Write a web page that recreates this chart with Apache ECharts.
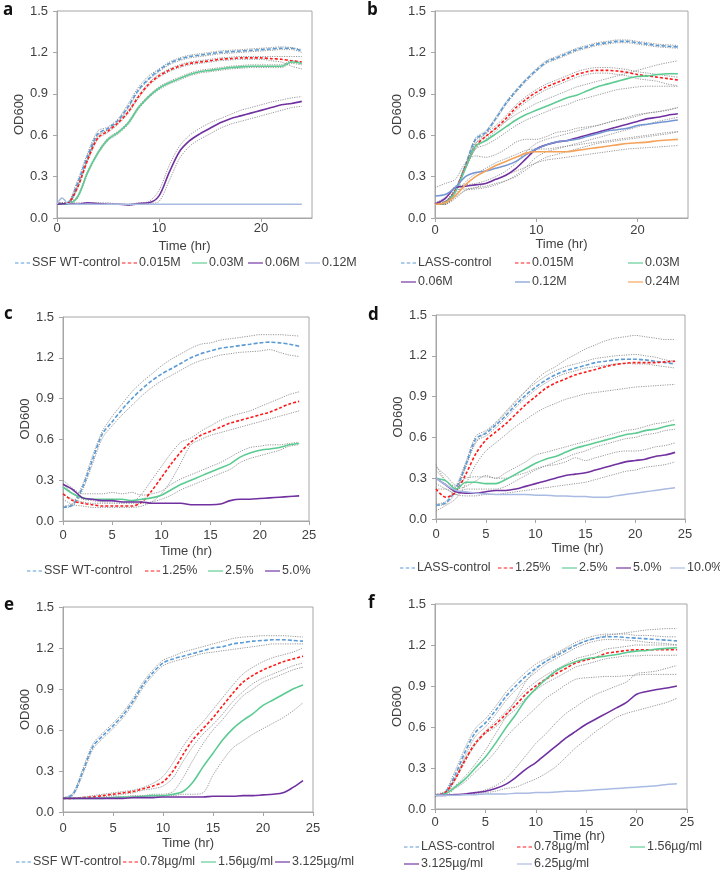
<!DOCTYPE html>
<html><head><meta charset="utf-8">
<script src="https://cdn.jsdelivr.net/npm/echarts@6/dist/echarts.min.js"></script>
<style>html,body{margin:0;padding:0;background:#fff}#c{width:720px;height:877px}</style>
</head><body><div id="c"></div><script>
// ---------- DATA ----------
const hours = [0,1,2,3,4,5,6,7,8,9,10,11,12,13,14,15,16,17,18,19,20,21,22,23,24];
const yTicks = [0.0,0.3,0.6,0.9,1.2,1.5];
const xTicksAB = [0,10,20];
const xTicksCF = [0,5,10,15,20,25];

// panel a
const a_names = ['SSF WT-control','0.015M','0.03M','0.06M','0.12M'];
const a_ctrl    = [0.10,0.105,0.25,0.45,0.61,0.65,0.71,0.81,0.93,1.01,1.07,1.12,1.15,1.17,1.18,1.19,1.20,1.205,1.21,1.215,1.22,1.225,1.23,1.23,1.21];
const a_ctrl_hi = [0.11,0.115,0.27,0.47,0.63,0.66,0.72,0.83,0.95,1.03,1.08,1.13,1.16,1.18,1.19,1.20,1.21,1.215,1.22,1.225,1.23,1.235,1.24,1.235,1.22];
const a_ctrl_lo = [0.10,0.10,0.23,0.43,0.60,0.64,0.70,0.80,0.92,1.00,1.06,1.11,1.14,1.16,1.17,1.18,1.19,1.195,1.20,1.205,1.21,1.215,1.22,1.22,1.20];
const a_015     = [0.10,0.105,0.22,0.42,0.58,0.63,0.69,0.77,0.88,0.97,1.03,1.07,1.10,1.12,1.13,1.14,1.15,1.155,1.16,1.16,1.16,1.155,1.15,1.14,1.13];
const a_015_hi  = [0.11,0.11,0.23,0.43,0.59,0.64,0.70,0.78,0.89,0.98,1.04,1.08,1.11,1.13,1.14,1.15,1.16,1.165,1.17,1.17,1.17,1.17,1.17,1.17,1.17];
const a_015_lo  = [0.10,0.10,0.21,0.41,0.57,0.62,0.68,0.76,0.87,0.96,1.02,1.06,1.09,1.11,1.12,1.13,1.14,1.145,1.15,1.15,1.15,1.14,1.13,1.10,1.08];
const a_03      = [0.10,0.10,0.15,0.33,0.47,0.57,0.62,0.69,0.80,0.88,0.94,0.98,1.01,1.04,1.06,1.07,1.08,1.09,1.095,1.10,1.10,1.10,1.10,1.13,1.12];
const a_03_hi   = [0.10,0.105,0.16,0.34,0.48,0.58,0.63,0.70,0.81,0.89,0.95,0.99,1.02,1.05,1.07,1.08,1.09,1.10,1.105,1.11,1.11,1.11,1.11,1.14,1.13];
const a_03_lo   = [0.10,0.10,0.14,0.32,0.46,0.56,0.61,0.68,0.79,0.87,0.93,0.97,1.00,1.03,1.05,1.06,1.07,1.08,1.085,1.09,1.09,1.09,1.09,1.12,1.11];
const a_06      = [0.10,0.105,0.10,0.11,0.105,0.10,0.10,0.095,0.105,0.11,0.16,0.33,0.48,0.56,0.61,0.65,0.69,0.72,0.74,0.76,0.78,0.80,0.82,0.83,0.845];
const a_06_hi   = [0.11,0.11,0.11,0.11,0.11,0.11,0.10,0.10,0.11,0.12,0.20,0.38,0.52,0.60,0.65,0.69,0.72,0.75,0.78,0.80,0.82,0.84,0.855,0.87,0.88];
const a_06_lo   = [0.10,0.10,0.10,0.10,0.10,0.10,0.10,0.09,0.10,0.105,0.12,0.27,0.43,0.52,0.57,0.61,0.65,0.68,0.70,0.72,0.74,0.76,0.78,0.80,0.81];
const a_12_hours = [0,0.25,0.5,0.75,1,1.5,24];
const a_12       = [0.10,0.13,0.145,0.13,0.105,0.10,0.10];

// panel b
const b_names = ['LASS-control','0.015M','0.03M','0.06M','0.12M','0.24M'];
const b_ctrl    = [0.10,0.11,0.20,0.38,0.57,0.62,0.72,0.83,0.92,1.00,1.07,1.13,1.16,1.19,1.22,1.24,1.26,1.27,1.28,1.28,1.27,1.26,1.25,1.245,1.24];
const b_ctrl_hi = [0.11,0.12,0.21,0.39,0.58,0.63,0.73,0.84,0.93,1.01,1.08,1.14,1.17,1.20,1.23,1.25,1.27,1.28,1.29,1.29,1.28,1.27,1.26,1.255,1.25];
const b_ctrl_lo = [0.10,0.10,0.19,0.37,0.56,0.61,0.71,0.82,0.91,0.99,1.06,1.12,1.15,1.18,1.21,1.23,1.25,1.26,1.27,1.27,1.26,1.25,1.24,1.235,1.23];
const b_015     = [0.10,0.11,0.20,0.37,0.52,0.59,0.65,0.72,0.80,0.86,0.91,0.95,0.98,1.01,1.04,1.06,1.07,1.07,1.065,1.055,1.04,1.03,1.02,1.01,1.00];
const b_015_hi  = [0.11,0.12,0.21,0.38,0.54,0.61,0.67,0.74,0.82,0.88,0.93,0.97,1.00,1.03,1.06,1.08,1.09,1.09,1.085,1.075,1.06,1.05,1.04,1.03,1.02];
const b_015_lo  = [0.10,0.10,0.19,0.36,0.50,0.57,0.63,0.70,0.78,0.84,0.89,0.93,0.96,0.99,1.02,1.04,1.05,1.05,1.04,1.03,1.01,1.00,0.99,0.97,0.96];
const b_03      = [0.10,0.11,0.19,0.36,0.52,0.56,0.61,0.66,0.71,0.75,0.78,0.81,0.84,0.87,0.89,0.92,0.95,0.97,0.99,1.01,1.025,1.03,1.04,1.045,1.045];
const b_03_hi   = [0.10,0.12,0.20,0.37,0.54,0.59,0.65,0.70,0.75,0.79,0.83,0.86,0.89,0.92,0.95,0.97,0.99,1.01,1.03,1.05,1.07,1.09,1.11,1.125,1.14];
const b_03_lo   = [0.10,0.10,0.18,0.35,0.50,0.53,0.57,0.62,0.67,0.71,0.74,0.77,0.80,0.82,0.85,0.87,0.89,0.91,0.93,0.94,0.95,0.955,0.955,0.955,0.955];
const b_06      = [0.10,0.14,0.22,0.23,0.24,0.25,0.28,0.31,0.36,0.43,0.50,0.53,0.55,0.56,0.58,0.60,0.62,0.64,0.66,0.68,0.70,0.72,0.73,0.745,0.755];
const b_06_hi   = [0.11,0.15,0.23,0.24,0.25,0.27,0.30,0.34,0.40,0.48,0.54,0.57,0.59,0.61,0.63,0.65,0.67,0.69,0.71,0.73,0.75,0.76,0.77,0.785,0.80];
const b_06_lo   = [0.10,0.12,0.20,0.21,0.22,0.23,0.25,0.27,0.31,0.37,0.44,0.48,0.50,0.52,0.54,0.56,0.58,0.60,0.62,0.64,0.66,0.68,0.70,0.715,0.73];
const b_12      = [0.16,0.17,0.22,0.30,0.33,0.34,0.36,0.38,0.41,0.46,0.50,0.53,0.55,0.56,0.57,0.59,0.61,0.63,0.64,0.65,0.67,0.68,0.69,0.70,0.71];
const b_12_hi   = [0.22,0.25,0.28,0.40,0.45,0.44,0.46,0.50,0.55,0.57,0.57,0.59,0.62,0.63,0.65,0.66,0.67,0.69,0.71,0.72,0.74,0.76,0.77,0.78,0.80];
const b_12_lo   = [0.10,0.10,0.15,0.20,0.21,0.22,0.24,0.27,0.30,0.35,0.40,0.44,0.46,0.48,0.50,0.52,0.54,0.55,0.56,0.57,0.58,0.59,0.60,0.61,0.625];
const b_24      = [0.10,0.11,0.16,0.24,0.30,0.34,0.38,0.41,0.44,0.47,0.48,0.48,0.48,0.48,0.49,0.50,0.51,0.52,0.53,0.54,0.545,0.55,0.56,0.565,0.57];
const b_24_hi   = [0.11,0.12,0.17,0.26,0.32,0.36,0.40,0.43,0.46,0.49,0.50,0.50,0.51,0.52,0.53,0.54,0.55,0.56,0.57,0.58,0.59,0.60,0.61,0.62,0.625];
const b_24_lo   = [0.10,0.10,0.14,0.20,0.22,0.25,0.28,0.31,0.34,0.37,0.40,0.42,0.43,0.44,0.45,0.46,0.47,0.48,0.49,0.50,0.505,0.51,0.515,0.52,0.525];

// panel c
const c_names = ['SSF WT-control','1.25%','2.5%','5.0%'];
const c_ctrl    = [0.10,0.12,0.25,0.45,0.64,0.73,0.82,0.90,0.97,1.03,1.08,1.12,1.16,1.20,1.23,1.25,1.27,1.28,1.29,1.30,1.31,1.315,1.31,1.30,1.285];
const c_ctrl_hi = [0.11,0.13,0.27,0.48,0.66,0.77,0.86,0.95,1.02,1.08,1.14,1.19,1.23,1.27,1.30,1.31,1.33,1.34,1.35,1.36,1.37,1.37,1.37,1.365,1.36];
const c_ctrl_lo = [0.10,0.11,0.23,0.42,0.61,0.70,0.78,0.85,0.92,0.98,1.03,1.07,1.11,1.15,1.18,1.20,1.22,1.23,1.24,1.245,1.25,1.26,1.24,1.22,1.21];
const c_125     = [0.20,0.15,0.13,0.12,0.11,0.11,0.11,0.11,0.14,0.22,0.32,0.42,0.51,0.58,0.63,0.66,0.69,0.72,0.74,0.76,0.78,0.80,0.83,0.86,0.88];
const c_125_hi  = [0.28,0.20,0.16,0.15,0.14,0.14,0.14,0.14,0.20,0.30,0.40,0.50,0.58,0.61,0.66,0.70,0.74,0.77,0.79,0.81,0.84,0.87,0.90,0.93,0.95];
const c_125_lo  = [0.16,0.12,0.11,0.10,0.10,0.10,0.10,0.10,0.11,0.14,0.20,0.30,0.43,0.56,0.60,0.63,0.65,0.67,0.69,0.71,0.73,0.75,0.77,0.79,0.81];
const c_25      = [0.25,0.20,0.17,0.16,0.16,0.16,0.16,0.15,0.16,0.17,0.19,0.23,0.27,0.30,0.33,0.36,0.39,0.42,0.47,0.50,0.52,0.53,0.54,0.56,0.57];
const c_25_hi   = [0.30,0.24,0.20,0.20,0.20,0.21,0.20,0.21,0.19,0.20,0.22,0.27,0.31,0.34,0.37,0.40,0.43,0.47,0.51,0.54,0.55,0.56,0.56,0.57,0.58];
const c_25_lo   = [0.20,0.16,0.14,0.13,0.13,0.13,0.13,0.13,0.13,0.14,0.16,0.19,0.23,0.26,0.29,0.32,0.35,0.38,0.43,0.46,0.48,0.50,0.52,0.55,0.56];
const c_50      = [0.27,0.23,0.17,0.16,0.15,0.15,0.14,0.14,0.14,0.13,0.13,0.13,0.13,0.12,0.12,0.12,0.125,0.15,0.16,0.16,0.165,0.17,0.175,0.18,0.185];

// panel d
const d_names = ['LASS-control','1.25%','2.5%','5.0%','10.0%'];
const d_ctrl    = [0.10,0.12,0.22,0.40,0.59,0.63,0.69,0.76,0.84,0.91,0.97,1.02,1.06,1.09,1.11,1.13,1.15,1.16,1.17,1.175,1.175,1.17,1.16,1.15,1.14];
const d_ctrl_hi = [0.11,0.13,0.24,0.42,0.61,0.65,0.71,0.79,0.87,0.94,1.00,1.05,1.09,1.12,1.14,1.16,1.18,1.19,1.20,1.205,1.21,1.20,1.19,1.17,1.16];
const d_ctrl_lo = [0.10,0.11,0.20,0.38,0.57,0.61,0.67,0.74,0.82,0.89,0.95,1.00,1.04,1.07,1.09,1.11,1.12,1.13,1.14,1.145,1.14,1.14,1.13,1.12,1.11];
const d_125     = [0.22,0.16,0.20,0.33,0.48,0.58,0.64,0.70,0.77,0.84,0.90,0.96,1.00,1.03,1.06,1.08,1.10,1.12,1.135,1.145,1.15,1.15,1.15,1.155,1.16];
const d_125_hi  = [0.40,0.28,0.24,0.40,0.56,0.64,0.70,0.78,0.86,0.94,1.02,1.08,1.12,1.17,1.21,1.25,1.28,1.31,1.33,1.34,1.35,1.34,1.33,1.32,1.32];
const d_125_lo  = [0.06,0.10,0.15,0.26,0.40,0.50,0.56,0.62,0.68,0.73,0.78,0.82,0.85,0.88,0.90,0.92,0.93,0.94,0.95,0.96,0.97,0.975,0.98,0.985,0.99];
const d_25      = [0.30,0.28,0.22,0.27,0.27,0.26,0.26,0.29,0.33,0.37,0.41,0.44,0.46,0.49,0.52,0.54,0.56,0.58,0.60,0.62,0.63,0.65,0.66,0.68,0.695];
const d_25_hi   = [0.38,0.32,0.25,0.30,0.31,0.31,0.30,0.34,0.38,0.42,0.47,0.49,0.51,0.53,0.55,0.57,0.59,0.61,0.63,0.65,0.66,0.68,0.70,0.71,0.73];
const d_25_lo   = [0.22,0.22,0.18,0.22,0.22,0.22,0.22,0.24,0.28,0.32,0.36,0.39,0.42,0.45,0.48,0.50,0.53,0.55,0.57,0.59,0.60,0.62,0.63,0.65,0.66];
const d_50      = [0.30,0.25,0.20,0.19,0.19,0.20,0.21,0.21,0.22,0.24,0.26,0.28,0.30,0.32,0.33,0.34,0.36,0.38,0.40,0.42,0.43,0.44,0.46,0.47,0.49];
const d_50_hi   = [0.36,0.28,0.22,0.24,0.28,0.32,0.30,0.30,0.32,0.34,0.37,0.39,0.40,0.42,0.45,0.43,0.45,0.47,0.49,0.50,0.50,0.51,0.53,0.54,0.56];
const d_50_lo   = [0.26,0.22,0.18,0.17,0.17,0.18,0.18,0.19,0.20,0.21,0.22,0.23,0.24,0.25,0.26,0.27,0.29,0.31,0.33,0.35,0.36,0.38,0.39,0.40,0.42];
const d_100     = [0.30,0.25,0.21,0.20,0.19,0.185,0.18,0.18,0.18,0.18,0.175,0.175,0.17,0.17,0.165,0.165,0.16,0.16,0.17,0.18,0.19,0.20,0.21,0.22,0.23];

// panel e
const e_names = ['SSF WT-control','0.78µg/ml','1.56µg/ml','3.125µg/ml'];
const e_ctrl    = [0.10,0.13,0.30,0.48,0.56,0.63,0.71,0.81,0.93,1.02,1.09,1.12,1.14,1.16,1.18,1.20,1.21,1.23,1.24,1.25,1.255,1.26,1.26,1.255,1.25];
const e_ctrl_hi = [0.10,0.14,0.32,0.50,0.58,0.65,0.73,0.83,0.95,1.04,1.11,1.14,1.17,1.19,1.21,1.23,1.25,1.27,1.28,1.285,1.29,1.29,1.29,1.285,1.28];
const e_ctrl_lo = [0.10,0.12,0.28,0.46,0.54,0.61,0.69,0.79,0.91,1.00,1.07,1.10,1.12,1.14,1.16,1.17,1.18,1.19,1.20,1.21,1.22,1.23,1.23,1.23,1.23];
const e_078     = [0.10,0.10,0.105,0.11,0.12,0.13,0.14,0.15,0.17,0.19,0.22,0.30,0.42,0.53,0.61,0.69,0.78,0.87,0.95,1.00,1.04,1.07,1.10,1.12,1.14];
const e_078_hi  = [0.10,0.10,0.11,0.12,0.13,0.14,0.15,0.16,0.18,0.21,0.26,0.36,0.48,0.58,0.66,0.75,0.84,0.93,1.01,1.06,1.10,1.13,1.15,1.17,1.20];
const e_078_lo  = [0.10,0.10,0.10,0.10,0.11,0.12,0.13,0.14,0.16,0.17,0.19,0.25,0.37,0.48,0.57,0.64,0.72,0.81,0.88,0.94,0.98,1.01,1.04,1.07,1.09];
const e_156     = [0.10,0.10,0.10,0.10,0.10,0.105,0.11,0.11,0.115,0.12,0.12,0.13,0.15,0.22,0.33,0.43,0.53,0.61,0.67,0.72,0.78,0.82,0.86,0.90,0.93];
const e_156_hi  = [0.10,0.10,0.10,0.10,0.10,0.11,0.11,0.12,0.12,0.13,0.13,0.15,0.25,0.38,0.50,0.60,0.68,0.77,0.85,0.90,0.95,0.98,1.01,1.04,1.06];
const e_156_lo  = [0.10,0.10,0.10,0.10,0.10,0.10,0.10,0.11,0.11,0.11,0.12,0.12,0.13,0.13,0.14,0.27,0.38,0.47,0.52,0.57,0.61,0.65,0.69,0.74,0.80];
const e_3125    = [0.10,0.10,0.10,0.10,0.10,0.10,0.10,0.105,0.105,0.105,0.11,0.11,0.11,0.11,0.11,0.115,0.115,0.115,0.12,0.12,0.125,0.13,0.14,0.18,0.23];

// panel f
const f_names = ['LASS-control','0.78µg/ml','1.56µg/ml','3.125µg/ml','6.25µg/ml'];
const f_ctrl    = [0.10,0.12,0.25,0.42,0.56,0.63,0.72,0.82,0.90,0.97,1.03,1.08,1.12,1.16,1.20,1.23,1.25,1.26,1.26,1.255,1.25,1.245,1.24,1.235,1.23];
const f_ctrl_hi = [0.11,0.13,0.28,0.45,0.59,0.66,0.75,0.85,0.93,1.00,1.06,1.10,1.14,1.18,1.22,1.25,1.27,1.28,1.28,1.28,1.27,1.27,1.265,1.26,1.26];
const f_ctrl_lo = [0.10,0.11,0.22,0.39,0.53,0.60,0.69,0.79,0.87,0.94,1.00,1.06,1.10,1.14,1.18,1.21,1.23,1.24,1.24,1.235,1.23,1.22,1.215,1.21,1.20];
const f_078     = [0.10,0.12,0.22,0.36,0.48,0.56,0.62,0.69,0.76,0.84,0.90,0.95,0.99,1.03,1.07,1.09,1.11,1.14,1.15,1.16,1.165,1.165,1.165,1.165,1.165];
const f_078_hi  = [0.10,0.12,0.23,0.37,0.49,0.57,0.64,0.71,0.79,0.87,0.93,0.98,1.02,1.06,1.10,1.12,1.14,1.17,1.18,1.19,1.20,1.20,1.20,1.20,1.20];
const f_078_lo  = [0.10,0.11,0.21,0.35,0.47,0.55,0.60,0.67,0.73,0.81,0.87,0.92,0.96,1.00,1.04,1.06,1.08,1.10,1.11,1.12,1.12,1.125,1.125,1.125,1.125];
const f_156     = [0.10,0.11,0.16,0.22,0.30,0.38,0.48,0.59,0.69,0.80,0.88,0.95,1.01,1.05,1.08,1.10,1.11,1.12,1.13,1.145,1.155,1.16,1.17,1.175,1.18];
const f_156_hi  = [0.10,0.12,0.17,0.24,0.33,0.43,0.55,0.67,0.80,0.93,1.02,1.08,1.13,1.17,1.20,1.23,1.25,1.27,1.28,1.29,1.30,1.31,1.315,1.32,1.32];
const f_156_lo  = [0.10,0.10,0.15,0.20,0.27,0.34,0.42,0.52,0.60,0.67,0.74,0.81,0.86,0.91,0.95,0.96,0.965,0.97,0.97,0.975,0.98,0.985,0.985,0.985,0.985];
const f_3125    = [0.10,0.10,0.105,0.11,0.12,0.13,0.15,0.18,0.23,0.29,0.34,0.40,0.46,0.52,0.57,0.62,0.66,0.70,0.74,0.78,0.84,0.86,0.875,0.885,0.90];
const f_3125_hi = [0.10,0.10,0.105,0.11,0.12,0.14,0.17,0.22,0.30,0.39,0.48,0.55,0.63,0.70,0.75,0.80,0.84,0.87,0.90,0.93,0.99,1.00,1.01,1.03,1.05];
const f_3125_lo = [0.10,0.10,0.10,0.105,0.11,0.12,0.13,0.15,0.16,0.19,0.22,0.26,0.31,0.38,0.45,0.51,0.57,0.62,0.67,0.70,0.72,0.74,0.76,0.78,0.81];
const f_625     = [0.10,0.10,0.10,0.105,0.105,0.11,0.11,0.11,0.115,0.115,0.12,0.12,0.125,0.13,0.13,0.135,0.14,0.145,0.15,0.155,0.16,0.165,0.17,0.18,0.185];

// ---------- STYLES ----------
const ST = {
  ctrl:  {color:'#5B9BD5', width:1.6, type:[4,2]},
  red:   {color:'#FF1A1A', width:1.6, type:[3,2]},
  green: {color:'#5CCB92', width:1.6, type:'solid'},
  purple:{color:'#7030A0', width:1.6, type:'solid'},
  pale:  {color:'#A9BBE2', width:1.5, type:'solid'},
  blue:  {color:'#7596D4', width:1.5, type:'solid'},
  orange:{color:'#F4A25A', width:1.6, type:'solid'},
  bound: {color:'#7F7F7F', width:0.8, type:[1.2,1.2]}
};
const TXT = '#404040';
const FONT = 'Liberation Sans, Arial, sans-serif';
const ICON_DASH = 'path://M0,0h3v1h-3zM5,0h3v1h-3zM10,0h3v1h-3z';
const ICON_SOLID = 'path://M0,0h13v1h-13z';

function pts(xs, ys){ return xs.map((t,k)=>[t, ys[k]]); }
const series = [];
const styleOf = {};
function mean(p, idx, name, vals, style, xs){
  styleOf[p+'|'+name] = style;
  series.push({type:'line', name:p+'|'+name, xAxisIndex:idx, yAxisIndex:idx,
    data: pts(xs||hours, vals), symbol:'none', smooth:0.3, z:5,
    lineStyle: Object.assign({}, style), itemStyle:{color:style.color},
    emphasis:{disabled:true}, silent:true});
}
function bound(p, idx, vals){
  series.push({type:'line', name:p+'|bound', xAxisIndex:idx, yAxisIndex:idx,
    data: pts(hours, vals), symbol:'none', smooth:0.3, z:3,
    lineStyle: Object.assign({}, ST.bound), emphasis:{disabled:true}, silent:true});
}

// a
[a_ctrl_hi,a_ctrl_lo,a_015_hi,a_015_lo,a_03_hi,a_03_lo,a_06_hi,a_06_lo].forEach(v=>bound('a',0,v));
mean('a',0,a_names[0],a_ctrl,ST.ctrl); mean('a',0,a_names[1],a_015,ST.red);
mean('a',0,a_names[2],a_03,ST.green); mean('a',0,a_names[3],a_06,ST.purple);
mean('a',0,a_names[4],a_12,ST.pale,a_12_hours);
// b
[b_ctrl_hi,b_ctrl_lo,b_015_hi,b_015_lo,b_03_hi,b_03_lo,b_06_hi,b_06_lo,b_12_hi,b_12_lo,b_24_hi,b_24_lo].forEach(v=>bound('b',1,v));
mean('b',1,b_names[0],b_ctrl,ST.ctrl); mean('b',1,b_names[1],b_015,ST.red);
mean('b',1,b_names[2],b_03,ST.green); mean('b',1,b_names[3],b_06,ST.purple);
mean('b',1,b_names[4],b_12,ST.blue); mean('b',1,b_names[5],b_24,ST.orange);
// c
[c_ctrl_hi,c_ctrl_lo,c_125_hi,c_125_lo,c_25_hi,c_25_lo].forEach(v=>bound('c',2,v));
mean('c',2,c_names[0],c_ctrl,ST.ctrl); mean('c',2,c_names[1],c_125,ST.red);
mean('c',2,c_names[2],c_25,ST.green); mean('c',2,c_names[3],c_50,ST.purple);
// d
[d_ctrl_hi,d_ctrl_lo,d_125_hi,d_125_lo,d_25_hi,d_25_lo,d_50_hi,d_50_lo].forEach(v=>bound('d',3,v));
mean('d',3,d_names[0],d_ctrl,ST.ctrl); mean('d',3,d_names[1],d_125,ST.red);
mean('d',3,d_names[2],d_25,ST.green); mean('d',3,d_names[3],d_50,ST.purple);
mean('d',3,d_names[4],d_100,ST.pale);
// e
[e_ctrl_hi,e_ctrl_lo,e_078_hi,e_078_lo,e_156_hi,e_156_lo].forEach(v=>bound('e',4,v));
mean('e',4,e_names[0],e_ctrl,ST.ctrl); mean('e',4,e_names[1],e_078,ST.red);
mean('e',4,e_names[2],e_156,ST.green); mean('e',4,e_names[3],e_3125,ST.purple);
// f
[f_ctrl_hi,f_ctrl_lo,f_078_hi,f_078_lo,f_156_hi,f_156_lo,f_3125_hi,f_3125_lo].forEach(v=>bound('f',5,v));
mean('f',5,f_names[0],f_ctrl,ST.ctrl); mean('f',5,f_names[1],f_078,ST.red);
mean('f',5,f_names[2],f_156,ST.green); mean('f',5,f_names[3],f_3125,ST.purple);
mean('f',5,f_names[4],f_625,ST.pale);

// ---------- LAYOUT ----------
const panels = [
  {id:'a', grid:{left:57, top:11, width:255, height:207}, xt:xTicksAB, lm:4, ng:30, xg:22, xpad:0},
  {id:'b', grid:{left:435, top:11, width:253, height:207}, xt:xTicksAB, lm:6, ng:30, xg:20, xpad:0},
  {id:'c', grid:{left:63, top:317, width:246, height:204}, xt:xTicksCF, lm:8, ng:29, xg:24, xpad:0},
  {id:'d', grid:{left:436, top:315, width:249, height:204}, xt:xTicksCF, lm:9, ng:31, xg:17, xpad:34},
  {id:'e', grid:{left:63, top:607, width:250, height:205}, xt:xTicksCF, lm:10, ng:29, xg:25, xpad:0},
  {id:'f', grid:{left:435, top:604, width:252, height:205}, xt:xTicksCF, lm:7, ng:30, xg:17, xpad:36}
];
const grids=[], xAxes=[], yAxes=[], graphics=[];
panels.forEach((p,i)=>{
  grids.push(Object.assign({show:true, borderColor:'#A6A6A6', borderWidth:1, backgroundColor:'#fff'}, p.grid));
  const xint = p.xt[1]-p.xt[0];
  xAxes.push({type:'value', gridIndex:i, min:p.xt[0], max:25, interval:xint,
    name:'Time (hr)', nameLocation:'middle', nameGap:p.xg,
    nameTextStyle:{color:TXT, fontSize:13, fontFamily:FONT, padding:[0,0,0,p.xpad]},
    axisLine:{show:true, onZero:false, lineStyle:{color:'#A6A6A6'}},
    axisTick:{show:true, length:4, lineStyle:{color:'#A6A6A6'}},
    splitLine:{show:false},
    axisLabel:{color:TXT, fontSize:13, fontFamily:FONT, margin:p.lm, showMaxLabel: p.xt[p.xt.length-1]===25,
      formatter: v => p.xt.indexOf(v)>=0 ? String(v) : ''}});
  yAxes.push({type:'value', gridIndex:i, min:yTicks[0], max:yTicks[yTicks.length-1], interval:yTicks[1]-yTicks[0],
    name:'OD600', nameLocation:'middle', nameGap:p.ng, nameRotate:90,
    nameTextStyle:{color:TXT, fontSize:13, fontFamily:FONT},
    axisLine:{show:true, lineStyle:{color:'#A6A6A6'}},
    axisTick:{show:true, length:4, lineStyle:{color:'#A6A6A6'}},
    splitLine:{show:false},
    axisLabel:{color:TXT, fontSize:13, fontFamily:FONT, margin:9, formatter: v => v.toFixed(1)}});
});
const letters = [['a',3,2],['b',367,2],['c',4,306],['d',368,307],['e',4,597],['f',368,595]];
letters.forEach(l=>graphics.push({type:'text', left:l[1], top:l[2],
  style:{text:l[0], fontSize:17, fontWeight:'bold', fontFamily:'Open Sans, DejaVu Sans, sans-serif', fill:'#111'}}));

// legends: [panel, name, iconLeft, rowCenterY]
const legendPos = [
  ['a',a_names[0],15,263],['a',a_names[1],122,263],['a',a_names[2],192,263],['a',a_names[3],248,263],['a',a_names[4],305,263],
  ['b',b_names[0],401,263],['b',b_names[1],515,263],['b',b_names[2],628,263],
  ['b',b_names[3],401,282],['b',b_names[4],515,282],['b',b_names[5],628,282],
  ['c',c_names[0],27,571],['c',c_names[1],145,571],['c',c_names[2],208,571],['c',c_names[3],265,571],
  ['d',d_names[0],400,568],['d',d_names[1],498,568],['d',d_names[2],562,568],['d',d_names[3],616,568],['d',d_names[4],670,568],
  ['e',e_names[0],16,862],['e',e_names[1],123,862],['e',e_names[2],201,862],['e',e_names[3],275,862],
  ['f',f_names[0],404,847],['f',f_names[1],517,847],['f',f_names[2],630,847],
  ['f',f_names[3],404,864],['f',f_names[4],517,864]
];
const legends = legendPos.map(l=>{
  const key = l[0]+'|'+l[1];
  const st = styleOf[key];
  const dashed = st.type !== 'solid';
  return {
    data:[{name:key, icon: dashed ? ICON_DASH : ICON_SOLID, itemStyle:{color:st.color}}],
    left:l[2], top:l[3]-7, orient:'horizontal',
    itemWidth:15, itemHeight:1.5, padding:0, itemGap:0, selectedMode:false,
    textStyle:{color:TXT, fontSize:12.5, fontFamily:FONT, padding:[0,0,0,-3], lineHeight:14},
    formatter: n => n.split('|')[1]
  };
});

const chart = echarts.init(document.getElementById('c'), null, {renderer:'canvas'});
chart.setOption({
  animation:false, backgroundColor:'#fff',
  grid:grids, xAxis:xAxes, yAxis:yAxes, legend:legends, series:series, graphic:graphics
});
</script></body></html>
